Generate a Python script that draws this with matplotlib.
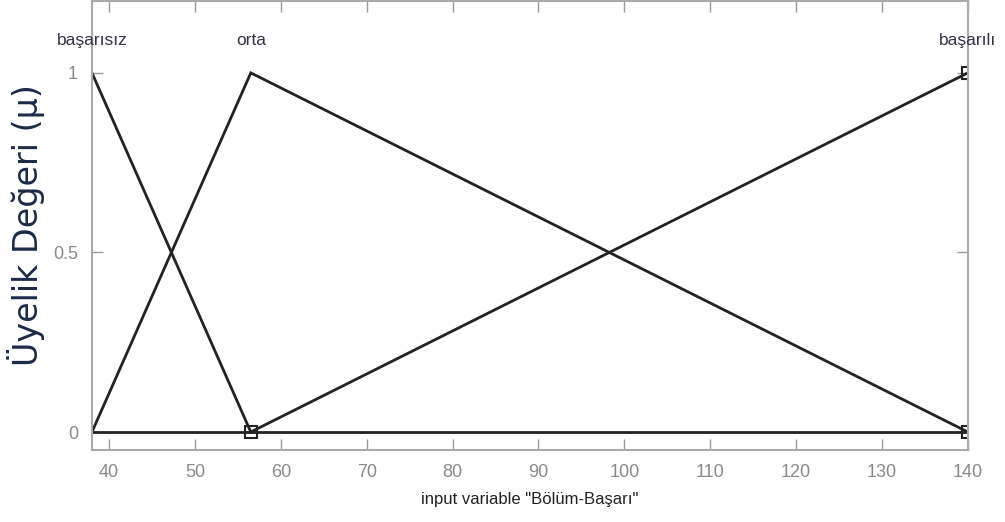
import matplotlib
matplotlib.use("Agg")
import matplotlib.pyplot as plt
from matplotlib import font_manager

# Membership function parameters (triangular) for "Bölüm-Başarı"
mf_names = ["başarısız", "orta", "başarılı"]
mf_params = [[38, 38, 56.5], [38, 56.5, 140], [56.5, 140, 140]]
x_range = [38, 140]
x_ticks = [40, 50, 60, 70, 80, 90, 100, 110, 120, 130, 140]
y_ticks = [0, 0.5, 1]

names = {f.name for f in font_manager.fontManager.ttflist}
narrow = "Liberation Sans Narrow" if "Liberation Sans Narrow" in names else "Liberation Sans"
plt.rcParams["font.family"] = [narrow, "DejaVu Sans"]

fig = plt.figure(figsize=(10.05, 5.22), dpi=100)
ax = fig.add_axes([0.0915, 0.138, 0.8715, 0.86])

line_kw = dict(color="#222222", lw=2.0, solid_joinstyle="miter")

# baseline of all membership functions
ax.plot(x_range, [0, 0], **line_kw)

for name, (a, b, c) in zip(mf_names, mf_params):
    ax.plot([a, b, c], [0 if a < b else 1, 1, 0 if b < c else 1], **line_kw)
    ax.text(b, 1.09, name, ha="center", va="center", fontsize=12.5,
            color="#333344", clip_on=False)

# square markers at breakpoints
mx = [56.5, 140, 140]
my = [0, 0, 1]
ax.plot(mx, my, ls="none", marker="s", ms=8, mfc="none", mec="#222222", mew=1.5)

ax.set_xlim(x_range)
ax.set_ylim(-0.05, 1.2)
ax.set_xticks(x_ticks)
ax.set_yticks(y_ticks)
ax.set_yticklabels(["0", "0.5", "1"])
ax.tick_params(direction="in", length=8, width=1, colors="#999999",
               labelcolor="#8a8a8a", labelsize=13, top=True, right=True, pad=10)
for s in ax.spines.values():
    s.set_color("#aaaaaa")
    s.set_linewidth(1.5)

ax.set_xlabel('input variable "Bölüm-Başarı"', fontsize=12, color="#222222", labelpad=8)
ax.set_ylabel("Üyelik Değeri (μ)", fontsize=24, color="#1c2a48",
              family=["DejaVu Sans"])
ax.yaxis.set_label_coords(-0.054, 0.5)

fig.savefig("out.png", dpi=100)
